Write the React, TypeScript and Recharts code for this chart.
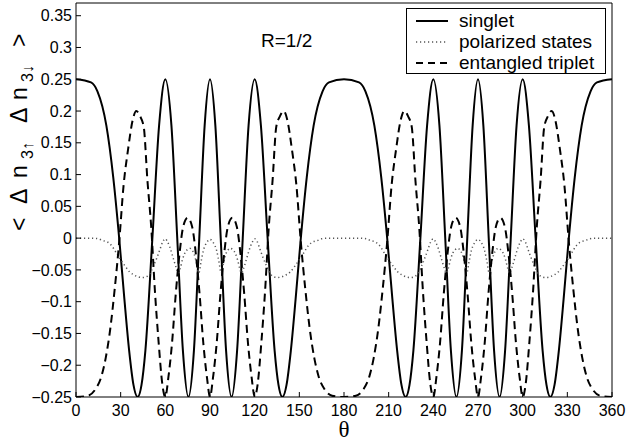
import React from "react";
import { LineChart, Line, XAxis, YAxis, Legend } from "recharts";

// theta in degrees (R = 1/2)
const singletTheta = [
  0, 10.1, 14.4, 20.4, 25, 29, 32.5, 35.7, 38.6, 41.4, 44, 46.6, 51.3, 55.8, 60, 64.1, 68, 71.8, 75.5, 79.2, 82.8, 86.4,
  90, 93.6, 97.2, 100.8, 104.5, 108.2, 112, 115.9, 120, 124.2, 128.7, 133.4, 136, 138.6, 141.4, 144.3, 147.5, 151, 155,
  159.6, 165.6, 169.9, 180, 190.1, 194.4, 200.4, 205, 209, 212.5, 215.7, 218.6, 221.4, 224, 226.6, 231.3, 235.8, 240,
  244.1, 248, 251.8, 255.5, 259.2, 262.8, 266.4, 270, 273.6, 277.2, 280.8, 284.5, 288.2, 292, 295.9, 300, 304.2, 308.7,
  313.4, 316, 318.6, 321.4, 324.3, 327.5, 331, 335, 339.6, 345.6, 349.9, 360,
];
const singletValue = [
  0.25, 0.245, 0.231, 0.177, 0.096, 0, -0.096, -0.177, -0.231, -0.25, -0.231, -0.177, 0, 0.177, 0.25, 0.177, 0, -0.177,
  -0.25, -0.177, 0, 0.177, 0.25, 0.177, 0, -0.177, -0.25, -0.177, 0, 0.177, 0.25, 0.177, 0, -0.177, -0.231, -0.25,
  -0.231, -0.177, -0.096, 0, 0.096, 0.177, 0.231, 0.245, 0.25, 0.245, 0.231, 0.177, 0.096, 0, -0.096, -0.177, -0.231,
  -0.25, -0.231, -0.177, 0, 0.177, 0.25, 0.177, 0, -0.177, -0.25, -0.177, 0, 0.177, 0.25, 0.177, 0, -0.177, -0.25,
  -0.177, 0, 0.177, 0.25, 0.177, 0, -0.177, -0.231, -0.25, -0.231, -0.177, -0.096, 0, 0.096, 0.177, 0.231, 0.245, 0.25,
];

const polarizedTheta = [
  0, 10, 15, 18, 21, 24, 27, 30, 33, 36, 39, 42, 44.5, 47, 49.5, 52, 54.5, 56.5, 58.2, 60, 61.5, 63, 64.5, 66, 67.5,
  68.8, 70, 71.5, 73, 74.8, 76.3, 78, 79.5, 81, 82.5, 84, 85.5, 87.8, 90, 92.2, 94.5, 96, 97.5, 99, 100.5, 102, 103.7,
  105.2, 107, 108.5, 110, 111.2, 112.5, 114, 115.5, 117, 118.5, 120, 121.8, 123.5, 125.5, 128, 130.5, 133, 135.5, 138,
  141, 144, 147, 150, 153, 156, 159, 162, 165, 170, 180, 190, 195, 198, 201, 204, 207, 210, 213, 216, 219, 222, 224.5,
  227, 229.5, 232, 234.5, 236.5, 238.2, 240, 241.5, 243, 244.5, 246, 247.5, 248.8, 250, 251.5, 253, 254.8, 256.3, 258,
  259.5, 261, 262.5, 264, 265.5, 267.8, 270, 272.2, 274.5, 276, 277.5, 279, 280.5, 282, 283.7, 285.2, 287, 288.5, 290,
  291.2, 292.5, 294, 295.5, 297, 298.5, 300, 301.8, 303.5, 305.5, 308, 310.5, 313, 315.5, 318, 321, 324, 327, 330, 333,
  336, 339, 342, 345, 350, 360,
];
const polarizedValue = [
  0, 0, -0.001, -0.004, -0.006, -0.012, -0.023, -0.034, -0.044, -0.053, -0.058, -0.061, -0.062, -0.061, -0.056, -0.044,
  -0.03, -0.017, -0.006, -0.001, -0.006, -0.014, -0.025, -0.037, -0.048, -0.055, -0.048, -0.034, -0.024, -0.018,
  -0.016, -0.019, -0.026, -0.04, -0.055, -0.037, -0.02, -0.007, -0.002, -0.007, -0.02, -0.037, -0.055, -0.04, -0.026,
  -0.019, -0.016, -0.018, -0.024, -0.034, -0.048, -0.055, -0.048, -0.037, -0.025, -0.014, -0.006, -0.001, -0.006,
  -0.017, -0.03, -0.044, -0.056, -0.061, -0.062, -0.061, -0.058, -0.053, -0.044, -0.034, -0.023, -0.012, -0.006,
  -0.004, -0.001, 0, 0, 0, -0.001, -0.004, -0.006, -0.012, -0.023, -0.034, -0.044, -0.053, -0.058, -0.061, -0.062,
  -0.061, -0.056, -0.044, -0.03, -0.017, -0.006, -0.001, -0.006, -0.014, -0.025, -0.037, -0.048, -0.055, -0.048,
  -0.034, -0.024, -0.018, -0.016, -0.019, -0.026, -0.04, -0.055, -0.037, -0.02, -0.007, -0.002, -0.007, -0.02, -0.037,
  -0.055, -0.04, -0.026, -0.019, -0.016, -0.018, -0.024, -0.034, -0.048, -0.055, -0.048, -0.037, -0.025, -0.014,
  -0.006, -0.001, -0.006, -0.017, -0.03, -0.044, -0.056, -0.061, -0.062, -0.061, -0.058, -0.053, -0.044, -0.034,
  -0.023, -0.012, -0.006, -0.004, -0.001, 0, 0,
];

const tripletTheta = [
  0, 8, 13, 17, 20, 23, 26, 29, 32, 35, 38, 40.5, 43, 45.5, 48, 50.5, 53, 55.5, 58, 60, 62, 64.5, 67, 69.5, 72, 75, 78,
  80.5, 83, 85.5, 88, 90, 92, 94.5, 97, 99.5, 102, 105, 108, 110.5, 113, 115.5, 118, 120, 122, 124.5, 127, 129.5, 132,
  134.5, 137, 139.5, 142, 145, 148, 151, 154, 157, 160, 163, 167, 172, 180, 188, 193, 197, 200, 203, 206, 209, 212, 215,
  218, 220.5, 223, 225.5, 228, 230.5, 233, 235.5, 238, 240, 242, 244.5, 247, 249.5, 252, 255, 258, 260.5, 263, 265.5,
  268, 270, 272, 274.5, 277, 279.5, 282, 285, 288, 290.5, 293, 295.5, 298, 300, 302, 304.5, 307, 309.5, 312, 314.5, 317,
  319.5, 322, 325, 328, 331, 334, 337, 340, 343, 347, 352, 360,
];
const tripletValue = [
  -0.25, -0.248, -0.238, -0.218, -0.188, -0.143, -0.08, -0.006, 0.084, 0.14, 0.185, 0.2, 0.192, 0.175, 0.09, 0.018,
  -0.083, -0.164, -0.23, -0.25, -0.22, -0.165, -0.088, -0.025, 0.018, 0.032, 0.018, -0.025, -0.088, -0.165, -0.22,
  -0.25, -0.22, -0.165, -0.088, -0.025, 0.018, 0.032, 0.018, -0.025, -0.088, -0.165, -0.22, -0.25, -0.23, -0.164,
  -0.083, 0.018, 0.09, 0.175, 0.192, 0.2, 0.185, 0.14, 0.084, -0.006, -0.08, -0.143, -0.188, -0.218, -0.238, -0.248,
  -0.25, -0.248, -0.238, -0.218, -0.188, -0.143, -0.08, -0.006, 0.084, 0.14, 0.185, 0.2, 0.192, 0.175, 0.09, 0.018,
  -0.083, -0.164, -0.23, -0.25, -0.22, -0.165, -0.088, -0.025, 0.018, 0.032, 0.018, -0.025, -0.088, -0.165, -0.22,
  -0.25, -0.22, -0.165, -0.088, -0.025, 0.018, 0.032, 0.018, -0.025, -0.088, -0.165, -0.22, -0.25, -0.23, -0.164,
  -0.083, 0.018, 0.09, 0.175, 0.192, 0.2, 0.185, 0.14, 0.084, -0.006, -0.08, -0.143, -0.188, -0.218, -0.238, -0.248,
  -0.25,
];

const seriesNames = ["singlet", "polarized states", "entangled triplet"];
const xTicks = [0, 30, 60, 90, 120, 150, 180, 210, 240, 270, 300, 330, 360];
const yTicks = [-0.25, -0.2, -0.15, -0.1, -0.05, 0, 0.05, 0.1, 0.15, 0.2, 0.25, 0.3, 0.35];

const toPoints = (theta: number[], value: number[]) => theta.map((t, i) => ({ theta: t, value: value[i] }));
const singletData = toPoints(singletTheta, singletValue);
const polarizedData = toPoints(polarizedTheta, polarizedValue);
const tripletData = toPoints(tripletTheta, tripletValue);

const FONT = "'Liberation Sans', Arial, Helvetica, sans-serif";

const lineStyles: Record<string, { stroke: string; width: number; dash?: string }> = {
  singlet: { stroke: "#000", width: 2 },
  "polarized states": { stroke: "#555", width: 1.5, dash: "1.2 2.8" },
  "entangled triplet": { stroke: "#000", width: 2, dash: "7 5" },
};

const fmtY = (v: number) => String(Math.round(v * 100) / 100).replace("-", "\u2212");

// matlab-style legend box, entries kept in plotting order
const LegendBox = ({ payload }: any) => {
  const items = [...(payload || [])].sort(
    (a: any, b: any) => seriesNames.indexOf(a.value) - seriesNames.indexOf(b.value)
  );
  return (
    <div
      style={{
        position: "relative",
        border: "1px solid #000",
        background: "#fff",
        width: 200,
        height: 66,
        boxSizing: "border-box",
        fontFamily: FONT,
        fontSize: 19,
        color: "#000",
      }}
    >
      {items.map((entry: any, i: number) => {
        const s = lineStyles[entry.value];
        const cy = 12 + i * 21;
        return (
          <React.Fragment key={entry.value}>
            <svg width={44} height={10} style={{ position: "absolute", left: 0, top: cy - 5 }}>
              <line x1={9} x2={41} y1={5} y2={5} stroke={s.stroke} strokeWidth={s.width} strokeDasharray={s.dash} />
            </svg>
            <span style={{ position: "absolute", left: 52, top: cy - 11, lineHeight: "22px", whiteSpace: "nowrap" }}>
              {entry.value}
            </span>
          </React.Fragment>
        );
      })}
    </div>
  );
};

const YLabel = () => (
  <text transform="translate(27,131) rotate(-90)" fontFamily={FONT} fontSize={23} fill="#000">
    <tspan x={-100} y={0}>&lt;</tspan>
    <tspan x={-73} y={0}>Δ</tspan>
    <tspan x={-47} y={0}>n</tspan>
    <tspan x={-28} y={6} fontSize={16}>3↑</tspan>
    <tspan x={8} y={0}>Δ</tspan>
    <tspan x={31} y={0}>n</tspan>
    <tspan x={49} y={6} fontSize={16}>3↓</tspan>
    <tspan x={84} y={0}>&gt;</tspan>
  </text>
);

const XLabel = () => (
  <text x={344} y={437} textAnchor="middle" fontFamily="'Liberation Serif', 'Times New Roman', serif" fontSize={23} fill="#000">
    θ
  </text>
);

export default function App() {
  const tickStyle = { fill: "#000", fontSize: 16, fontFamily: FONT };
  return (
    <div style={{ position: "absolute", left: 0, top: 0, width: 626, height: 443, background: "#fff" }}>
      <LineChart width={626} height={443} margin={{ top: 2, right: 13, bottom: 0, left: 0 }}>
        <XAxis
          type="number"
          dataKey="theta"
          domain={[0, 360]}
          ticks={xTicks}
          interval={0}
          allowDataOverflow
          height={46}
          tickSize={-5}
          tickMargin={13}
          tick={tickStyle}
          axisLine={{ stroke: "#000" }}
          tickLine={{ stroke: "#000" }}
          label={XLabel}
        />
        <XAxis
          xAxisId="top"
          orientation="top"
          type="number"
          domain={[0, 360]}
          ticks={xTicks}
          interval={0}
          allowDataOverflow
          height={1}
          tickSize={-5}
          tick={false}
          axisLine={{ stroke: "#000" }}
          tickLine={{ stroke: "#000" }}
        />
        <YAxis
          type="number"
          domain={[-0.25, 0.37]}
          ticks={yTicks}
          interval={0}
          allowDataOverflow
          width={76}
          tickSize={-5}
          tickMargin={9}
          tick={tickStyle}
          tickFormatter={fmtY}
          axisLine={{ stroke: "#000" }}
          tickLine={{ stroke: "#000" }}
          label={YLabel}
        />
        <YAxis
          yAxisId="right"
          orientation="right"
          type="number"
          domain={[-0.25, 0.37]}
          ticks={yTicks}
          interval={0}
          allowDataOverflow
          width={1}
          tickSize={-5}
          tick={false}
          axisLine={{ stroke: "#000" }}
          tickLine={{ stroke: "#000" }}
        />
        <Legend
          layout="vertical"
          align="center"
          verticalAlign="middle"
          content={LegendBox}
          wrapperStyle={{ position: "absolute", left: 406, top: 8, width: 200, height: 66 }}
        />
        <Line
          data={singletData}
          dataKey="value"
          name="singlet"
          type="monotone"
          stroke="#000"
          strokeWidth={2}
          dot={false}
          isAnimationActive={false}
        />
        <Line
          data={polarizedData}
          dataKey="value"
          name="polarized states"
          type="monotone"
          stroke="#555"
          strokeWidth={1.5}
          strokeDasharray="1.2 2.8"
          dot={false}
          isAnimationActive={false}
        />
        <Line
          data={tripletData}
          dataKey="value"
          name="entangled triplet"
          type="monotone"
          stroke="#000"
          strokeWidth={2}
          strokeDasharray="8 5"
          dot={false}
          isAnimationActive={false}
        />
      </LineChart>
      <div
        style={{
          position: "absolute",
          left: 261,
          top: 31,
          fontFamily: FONT,
          fontSize: 19,
          lineHeight: "19px",
          color: "#000",
        }}
      >
        R=1/2
      </div>
    </div>
  );
}
